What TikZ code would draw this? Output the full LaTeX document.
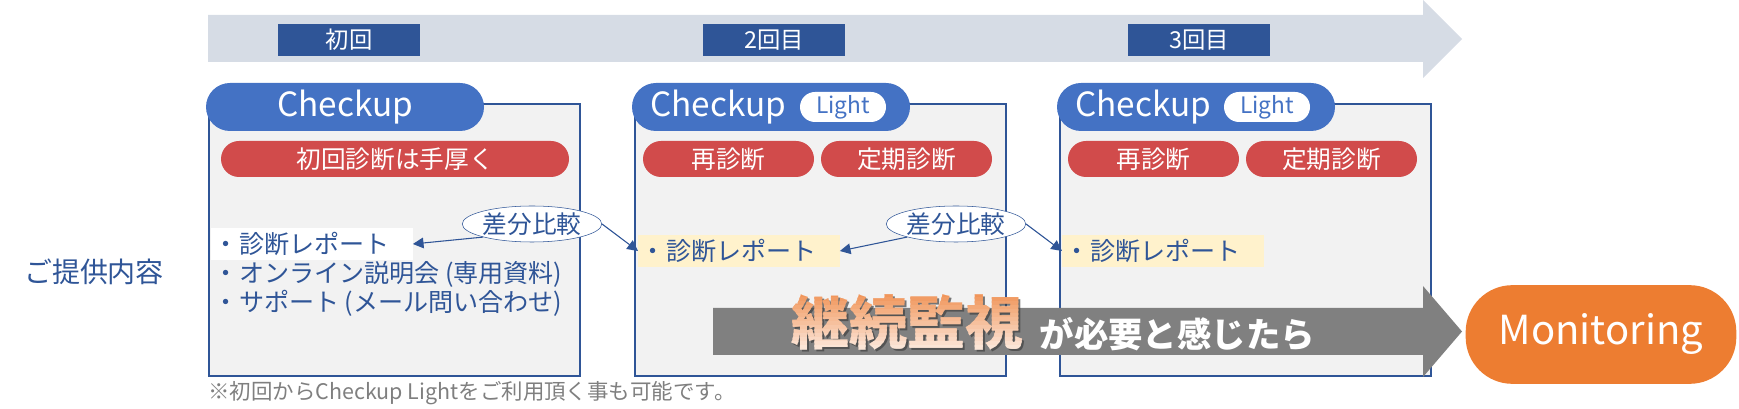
\documentclass[tikz,border=0pt]{standalone}
\usepackage{fontspec}
\setmainfont{Noto Sans CJK JP}
\usepackage{xcolor}
\usetikzlibrary{shapes.geometric,shapes.misc,arrows.meta}

\definecolor{navy}{HTML}{2F5597}
\definecolor{ckblue}{HTML}{4472C4}
\definecolor{pillred}{HTML}{D14B4B}
\definecolor{bandgray}{HTML}{D6DCE5}
\definecolor{boxgray}{HTML}{F2F2F2}
\definecolor{cream}{HTML}{FFF2CC}
\definecolor{monorange}{HTML}{ED7D31}
\definecolor{arrowgray}{HTML}{808080}
\definecolor{notegray}{HTML}{7F7F7F}
\definecolor{kzTop}{HTML}{EF8A48}
\definecolor{kzBot}{HTML}{FDF0E8}

\newcommand{\fsz}[1]{\fontsize{#1}{#1}\selectfont}

\tikzset{
  roundlabel/.style={fill=navy, text=white, minimum width=107pt, minimum height=24pt, inner sep=0pt, font=\fsz{17.5pt}},
  checkpill/.style={rounded rectangle, fill=ckblue, minimum width=208.5pt, minimum height=36pt, inner sep=0pt},
  checktext/.style={text=white, inner sep=0pt, font=\fsz{25pt}},
  lightpill/.style={rounded rectangle, fill=white, text=ckblue, minimum width=64.5pt, minimum height=22.5pt, inner sep=0pt, font=\fsz{17pt}},
  redpill/.style={rounded rectangle, fill=pillred, text=white, minimum height=27pt, inner sep=0pt, font=\fsz{18.5pt}},
  planbox/.style={draw=navy, fill=boxgray, line width=1.5pt, anchor=north west, minimum width=278.25pt, minimum height=204pt},
  bullet/.style={anchor=west, text=navy, inner xsep=2pt, font=\fsz{18.8pt}},
  report/.style={bullet, text width=147pt, minimum height=22pt, align=left},
  diffnode/.style={ellipse, draw=navy, fill=white, text=navy, minimum width=100.5pt, minimum height=27pt, inner sep=0pt, font=\fsz{18.5pt}},
  diffarrow/.style={navy, line width=0.8pt, -{Triangle[length=8pt,width=8pt]}},
  kanshi/.style={inner sep=0pt, font=\bfseries\fsz{43.5pt}},
}

\begin{document}
\begin{tikzpicture}[x=0.75pt,y=-0.75pt]
\useasboundingbox (0,0) rectangle (1739,409);

\fill[bandgray] (208,15) -- (1423,15) -- (1423,0) -- (1462,39) -- (1423,78) -- (1423,62) -- (208,62) -- cycle;
\node[roundlabel] (lab1) at (349,40) {初回};
\node[roundlabel] (lab2) at (774,40) {2回目};
\node[roundlabel] (lab3) at (1199,40) {3回目};

\node[text=navy, font=\fsz{21pt}] (offer) at (94,272) {ご提供内容};

\node[planbox] (box1) at (208,103) {};
\node[planbox] (box2) at (634,103) {};
\node[planbox] (box3) at (1059,103) {};

\node[checkpill] (ck1) at (345,107) {};
\node[checktext] (ckt1) at (ck1) {Checkup};
\node[checkpill] (ck2) at (771,107) {};
\node[checktext, anchor=west] (ckt2) at (650,107) {Checkup};
\node[lightpill] (lt2) at (843,107) {Light};
\node[checkpill] (ck3) at (1196,107) {};
\node[checktext, anchor=west] (ckt3) at (1075,107) {Checkup};
\node[lightpill] (lt3) at (1267,107) {Light};

\node[redpill, minimum width=261pt] (first) at (395,159) {初回診断は手厚く};
\node[redpill, minimum width=128.25pt] (re2) at (728.5,159) {再診断};
\node[redpill, minimum width=128.25pt] (reg2) at (906.5,159) {定期診断};
\node[redpill, minimum width=128.25pt] (re3) at (1153.5,159) {再診断};
\node[redpill, minimum width=128.25pt] (reg3) at (1331.5,159) {定期診断};

\node[report, fill=white] (rep1) at (211,244) {・診断レポート};
\node[bullet] (online) at (211,274) {・オンライン説明会 (専用資料)};
\node[bullet] (support) at (211,303) {・サポート (メール問い合わせ)};
\node[report, fill=cream] (rep2) at (638,251) {・診断レポート};
\node[report, fill=cream] (rep3) at (1062,251) {・診断レポート};

\node[diffnode] (diff1) at (532,224) {差分比較};
\node[diffnode] (diff2) at (956,224) {差分比較};
\draw[diffarrow] (diff1.195) -- (rep1.east);
\draw[diffarrow] (diff1.east) -- (rep2.west);
\draw[diffarrow] (diff2.195) -- (rep2.east);
\draw[diffarrow] (diff2.east) -- (rep3.west);

\fill[arrowgray] (713,308) -- (1423,308) -- (1423,286) -- (1462,331.5) -- (1423,377) -- (1423,355) -- (713,355) -- cycle;
\node[kanshi, text=black!75, opacity=0.7] (kzshadow) at (909.5,324.5) {継続監視};
\foreach \k in {0,...,17}{
  \pgfmathtruncatemacro{\mixp}{100-\k*100/17}
  \begin{scope}
    \clip (780,{286+\k*4}) rectangle (1030,{290.3+\k*4});
    \node[kanshi, text=kzTop!\mixp!kzBot] (kz\k) at (907,322) {継続監視};
  \end{scope}
}
\node[anchor=west, text=white, font=\bfseries\fsz{25.8pt}] (need) at (1035,334) {が必要と感じたら};

\node[fill=monorange, rounded corners=35pt, minimum width=203pt, minimum height=74pt, text=white, font=\fsz{30pt}] (mon) at (1601,334.5) {Monitoring};

\node[anchor=west, text=notegray, inner sep=0pt, font=\fsz{16.1pt}] (note) at (208,393) {※初回からCheckup Lightをご利用頂く事も可能です。};
\end{tikzpicture}
\end{document}
